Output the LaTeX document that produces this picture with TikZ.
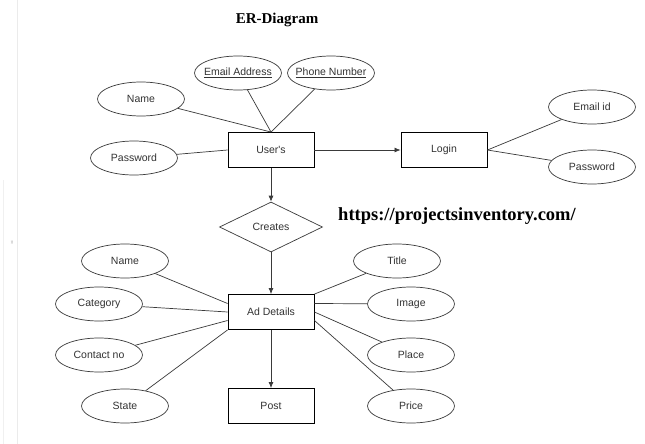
\documentclass[tikz,border=0pt]{standalone}
\usepackage{fontspec}
\setmainfont{Liberation Serif}
\newfontfamily\lblfont{Liberation Sans}
\usetikzlibrary{shapes.geometric,arrows.meta,calc}
\definecolor{txt}{HTML}{333333}
\definecolor{ln}{HTML}{3A3A3A}
\begin{document}
\begin{tikzpicture}[x=1pt,y=-1pt,
  lbl/.style={font=\lblfont\fontsize{10.5}{12}\selectfont, text=txt},
  ent/.style={lbl, draw=black, line width=0.9pt, minimum width=86pt, minimum height=35pt, inner sep=0pt},
  attr/.style={lbl, ellipse, draw=ln, line width=0.7pt, minimum width=87pt, minimum height=34pt, inner ysep=0pt, inner xsep=-8pt},
  rel/.style={lbl, diamond, draw=ln, line width=0.7pt, minimum width=103pt, minimum height=50pt, inner sep=0pt},
  conn/.style={draw=ln, line width=0.7pt},
  arr/.style={conn, -{Latex[length=6pt,width=5pt]}}
]
\useasboundingbox (0,0) rectangle (645,444);
\fill[white] (0,0) rectangle (645,444);
% faint page edges
\draw[black!8, line width=0.8pt] (17,0) -- (17,444);
\draw[black!6, line width=0.6pt] (3,180) -- (3,444);
\node[text=black!35, font=\lblfont\fontsize{5}{5}\selectfont] (mk) at (12,243) {!!};

% titles
\node[font=\bfseries\fontsize{15}{17}\selectfont] (title) at (277,20) {ER-Diagram};
\node[font=\bfseries\fontsize{18.5}{20}\selectfont] (url) at (457,216) {https://projectsinventory.com/};

% entities
\node[ent] (users) at (271,150) {User's};
\node[ent] (login) at (444,150) {Login};
\node[rel] (creates) at (271,227) {Creates};
\node[ent] (ad) at (271,312) {Ad Details};
\node[ent] (post) at (271,406) {Post};

% user attributes
\node[attr] (uname) at (141,99) {Name};
\node[attr] (email) at (238,73) {\underline{Email Address}};
\node[attr] (phone) at (331,73) {\underline{Phone Number}};
\node[attr] (upass) at (134,158) {Password};
\node[attr] (emailid) at (592,107) {Email id};
\node[attr] (lpass) at (592,167) {Password};

% ad attributes
\node[attr] (aname) at (125,261) {Name};
\node[attr] (cat) at (99,304) {Category};
\node[attr] (contact) at (99,355) {Contact no};
\node[attr] (state) at (125,406) {State};
\node[attr] (titlea) at (397,261) {Title};
\node[attr] (image) at (411,304) {Image};
\node[attr] (place) at (411,355) {Place};
\node[attr] (price) at (411,406) {Price};

% connectors
\draw[conn] (uname) -- (users.north);
\draw[conn] (email) -- (users.north);
\draw[conn] (phone) -- (users.north);
\draw[conn] (upass) -- (users.west);
\draw[arr] (users.east) -- (login.west);
\draw[conn] (login.east) -- (emailid);
\draw[conn] (login.east) -- (lpass);
\draw[arr] (users.south) -- (creates.north);
\draw[arr] (creates.south) -- (ad.north);
\draw[arr] (ad.south) -- (post.north);

\draw[conn] (aname) -- ([yshift=8.5pt]ad.west);
\draw[conn] (cat) -- (ad.west);
\draw[conn] (contact) -- ([yshift=-8.5pt]ad.west);
\draw[conn] (state) -- (ad.south west);
\draw[conn] (titlea) -- (ad.north east);
\draw[conn] (image) -- ([yshift=8.5pt]ad.east);
\draw[conn] (place) -- (ad.east);
\draw[conn] (price) -- ([yshift=-8.5pt]ad.east);
\end{tikzpicture}
\end{document}
